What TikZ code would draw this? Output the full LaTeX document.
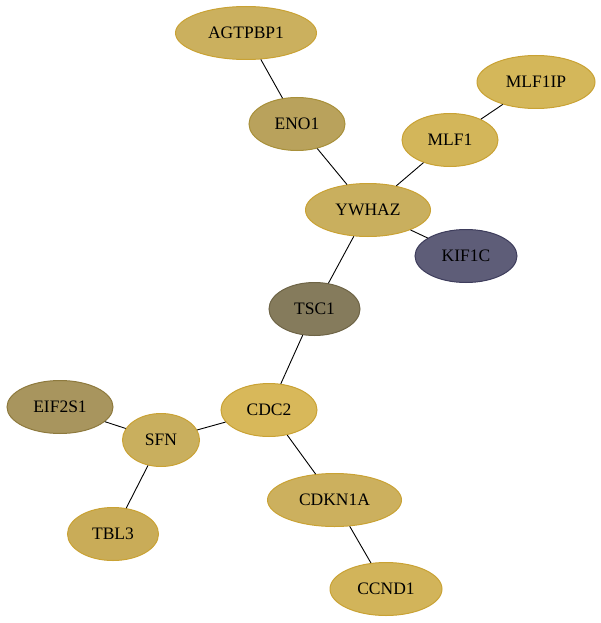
\documentclass[tikz,border=0pt]{standalone}
\usepackage{fontspec}
\setmainfont{Liberation Serif}
\usetikzlibrary{shapes.geometric}
\definecolor{cAG}{HTML}{CBB05E}
\definecolor{cEN}{HTML}{B9A25C}
\definecolor{cMI}{HTML}{D4B75A}
\definecolor{cML}{HTML}{D3B65A}
\definecolor{cYW}{HTML}{C9AF5E}
\definecolor{cKI}{HTML}{5E5D78}
\definecolor{cTS}{HTML}{857B5C}
\definecolor{cCD}{HTML}{D8B85A}
\definecolor{cEI}{HTML}{A8955E}
\definecolor{cSF}{HTML}{C9AF5E}
\definecolor{cTB}{HTML}{C9AC58}
\definecolor{cCK}{HTML}{CCB05E}
\definecolor{cCC}{HTML}{D2B45A}
\definecolor{bGold}{HTML}{C9A234}
\definecolor{bEN}{HTML}{A8903A}
\definecolor{bEI}{HTML}{8E7A3E}
\definecolor{bTS}{HTML}{6E6446}
\definecolor{bKI}{HTML}{3E3D5C}
\tikzset{
  gene/.style={ellipse, inner sep=0pt, line width=1pt, font=\fontsize{17.5}{20}\selectfont},
  g/.style n args={4}{gene, fill=#1, draw=#4, minimum width=#2pt, minimum height=#3pt},
  link/.style={line width=0.9pt, draw=black}
}
\begin{document}
\begin{tikzpicture}[x=1pt,y=-1pt]
\useasboundingbox (0,0) rectangle (601,623);
\node[g={cAG}{141}{53}{bGold}] (AGTPBP1) at (246,33) {AGTPBP1};
\node[g={cEN}{96}{53}{bEN}] (ENO1) at (297,124) {ENO1};
\node[g={cMI}{118}{53}{bGold}] (MLF1IP) at (536,82) {MLF1IP};
\node[g={cML}{96}{53}{bGold}] (MLF1) at (450,140) {MLF1};
\node[g={cYW}{125}{53}{bGold}] (YWHAZ) at (368,210) {YWHAZ};
\node[g={cKI}{102}{53}{bKI}] (KIF1C) at (466,256) {KIF1C};
\node[g={cTS}{91}{53}{bTS}] (TSC1) at (314.5,309) {TSC1};
\node[g={cCD}{96}{53}{bGold}] (CDC2) at (269,410) {CDC2};
\node[g={cEI}{106}{53}{bEI}] (EIF2S1) at (60,407) {EIF2S1};
\node[g={cSF}{77}{53}{bGold}] (SFN) at (161,440) {SFN};
\node[g={cTB}{91}{53}{bGold}] (TBL3) at (113,534) {TBL3};
\node[g={cCK}{134}{53}{bGold}] (CDKN1A) at (334.5,500) {CDKN1A};
\node[g={cCC}{112}{53}{bGold}] (CCND1) at (386,589) {CCND1};
\draw[link] (AGTPBP1) -- (ENO1);
\draw[link] (ENO1) -- (YWHAZ);
\draw[link] (MLF1IP) -- (MLF1);
\draw[link] (MLF1) -- (YWHAZ);
\draw[link] (YWHAZ) -- (KIF1C);
\draw[link] (YWHAZ) -- (TSC1);
\draw[link] (TSC1) -- (CDC2);
\draw[link] (CDC2) -- (SFN);
\draw[link] (EIF2S1) -- (SFN);
\draw[link] (SFN) -- (TBL3);
\draw[link] (CDC2) -- (CDKN1A);
\draw[link] (CDKN1A) -- (CCND1);
\end{tikzpicture}
\end{document}
